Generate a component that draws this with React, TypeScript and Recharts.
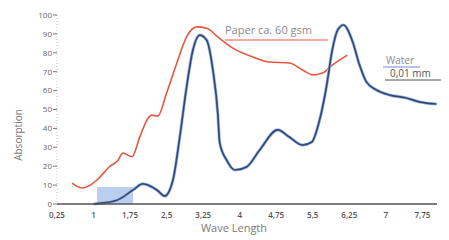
import React from 'react';
import { LineChart, Line, XAxis, YAxis, ReferenceArea } from 'recharts';

// Wave length ticks (labels use a decimal comma)
const xTicks = [0.25, 1, 1.75, 2.5, 3.25, 4, 4.75, 5.5, 6.25, 7, 7.75];
const yTicks = [0, 10, 20, 30, 40, 50, 60, 70, 80, 90, 100];

// Paper ca. 60 gsm
const paperX = [0.56, 0.76, 0.93, 1.07, 1.34, 1.5, 1.6, 1.79, 1.95, 2.11, 2.2, 2.32, 2.5, 2.71, 2.91, 3.12, 3.32, 3.55, 3.86, 4.27, 4.61, 5.02, 5.29, 5.5, 5.7, 5.9, 6.21];
const paperY = [11, 8.5, 10, 12.7, 20, 23, 27, 25, 35.5, 45, 47, 46.5, 58.7, 74.6, 88.4, 93.7, 93, 88.4, 82.5, 77.8, 75.1, 74.6, 70.9, 68.3, 69.3, 73.5, 78.8];

// Water 0,01 mm
const waterX = [1.0, 1.07, 1.48, 1.81, 2.01, 2.3, 2.46, 2.63, 2.77, 2.91, 3.04, 3.18, 3.32, 3.45, 3.55, 3.59, 3.73, 3.9, 4.14, 4.41, 4.78, 5.02, 5.29, 5.48, 5.64, 5.78, 5.9, 6.01, 6.13, 6.32, 6.46, 6.6, 6.81, 7.07, 7.42, 7.69, 8.04];
const waterY = [0, 0.2, 2, 7.4, 10.6, 7.4, 4.2, 12.7, 35.4, 61.9, 81.5, 89.4, 86.8, 70.9, 48.1, 32.3, 23.3, 18, 19.6, 28.6, 39.2, 35.4, 31.2, 32.8, 44.4, 61.9, 81.5, 92, 94.7, 85.7, 73.5, 64.6, 60.3, 57.7, 56.1, 54, 52.9];

// shaded band under the first water bump
const band = { x1: 1.07, x2: 1.81, y1: 0, y2: 9 };

const paperData = paperX.map((x, i) => ({ x, y: paperY[i] }));
const waterData = waterX.map((x, i) => ({ x, y: waterY[i] }));

const fmt = (v: number) => String(v).replace('.', ',');
const FONT = '"Open Sans", "DejaVu Sans", sans-serif';

export default function App() {
	return (
		<div style={{ position: 'relative', width: 441, height: 232, fontFamily: FONT }}>
			<LineChart width={441} height={232} margin={{ top: 7, right: 12, left: 0, bottom: 0 }}>
				<ReferenceArea x1={band.x1} x2={band.x2} y1={band.y1} y2={band.y2} fill="#a9c3ec" fillOpacity={0.8} stroke="none" />
				<XAxis
					type="number"
					dataKey="x"
					domain={[0.25, 8.05]}
					ticks={xTicks}
					tickFormatter={fmt}
					allowDataOverflow
					height={36}
					stroke="#555"
					strokeWidth={1.5}
					tickLine={false}
					tickMargin={2}
					tick={{ fill: '#555', fontSize: 8, fontWeight: 600 }}
				/>
				<YAxis
					type="number"
					domain={[0, 100]}
					ticks={yTicks}
					width={49}
					axisLine={{ stroke: '#bbb', strokeDasharray: '1 2' }}
					tickLine={{ stroke: '#777' }}
					tickSize={4}
					tickMargin={1}
					tick={{ fill: '#666', fontSize: 8 }}
				/>
				<Line data={paperData} dataKey="y" type="monotone" stroke="#e5583d" strokeWidth={1.6} dot={false} isAnimationActive={false} />
				<Line data={waterData} dataKey="y" type="monotone" stroke="#a8bde0" strokeWidth={3.2} dot={false} isAnimationActive={false} />
				<Line data={waterData} dataKey="y" type="monotone" stroke="#2f4a78" strokeWidth={1.7} dot={false} isAnimationActive={false} />
			</LineChart>
			<svg width={441} height={232} style={{ position: 'absolute', left: 0, top: 0, pointerEvents: 'none' }}>
				<text x={217} y={26} fontSize={11} fill="#8a8a8a">Paper ca. 60 gsm</text>
				<line x1={217} x2={320} y1={32} y2={32} stroke="#e5583d" strokeWidth={1.2} />
				<text x={378} y={56} fontSize={10} fill="#8a8a8a">Water</text>
				<line x1={375} x2={412} y1={59} y2={59} stroke="#6d8fc9" strokeWidth={1.2} />
				<text x={382} y={69} fontSize={10} fill="#555">0,01 mm</text>
				<line x1={377} x2={441} y1={72} y2={72} stroke="#555" strokeWidth={1} />
				<text x={226} y={224} fontSize={11} fill="#7a7a7a" textAnchor="middle">Wave Length</text>
				<text x={14} y={127} fontSize={10} fill="#777" textAnchor="middle" transform="rotate(-90 14 127)">Absorption</text>
			</svg>
		</div>
	);
}
